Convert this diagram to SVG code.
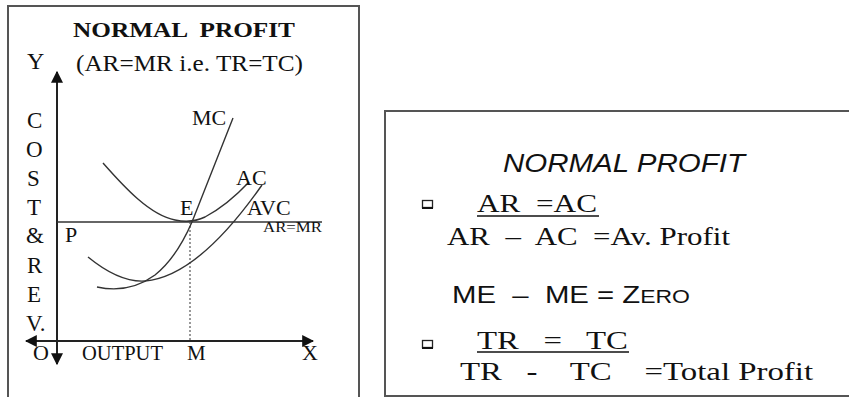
<svg xmlns="http://www.w3.org/2000/svg" width="849" height="397" viewBox="0 0 849 397">
<defs>
<style>
.frame{fill:#fff;stroke:#555;stroke-width:2}
.ser{font-family:"Liberation Serif","Times New Roman",serif;fill:#111;white-space:pre}
.san{font-family:"Liberation Sans",Arial,sans-serif;fill:#111;white-space:pre}
.axis{stroke:#222;stroke-width:2;fill:none}
.curve{stroke:#333;stroke-width:1.4;fill:none}
.bul{fill:#fff;stroke:#222;stroke-width:1.3}
</style>
<marker id="ah" viewBox="0 0 10 10" refX="9" refY="5" markerWidth="6" markerHeight="6" orient="auto-start-reverse" markerUnits="strokeWidth">
<path d="M0,0 L10,5 L0,10 z" fill="#111"/>
</marker>
</defs>
<rect width="849" height="397" fill="#fff"/>

<g id="graph-panel">
<rect class="frame" x="8" y="6" width="351" height="400"/>
<text class="ser" x="73" y="37" font-size="22" font-weight="bold" textLength="222" lengthAdjust="spacingAndGlyphs" xml:space="preserve">NORMAL  PROFIT</text>
<text class="ser" x="76" y="71" font-size="24" textLength="227" lengthAdjust="spacingAndGlyphs">(AR=MR i.e. TR=TC)</text>
<text class="ser" x="27" y="69" font-size="24">Y</text>
<g class="ser" font-size="23">
<text x="27" y="128">C</text>
<text x="26" y="157">O</text>
<text x="27" y="186">S</text>
<text x="27" y="215">T</text>
<text x="26" y="243">&amp;</text>
<text x="27" y="273">R</text>
<text x="27" y="302">E</text>
<text x="26" y="331">V.</text>
</g>
</g>

<g id="connectors">
<line class="axis" x1="57" y1="341" x2="57" y2="72" marker-end="url(#ah)"/>
<line class="axis" x1="57" y1="341" x2="57" y2="364" marker-end="url(#ah)"/>
<line class="axis" x1="26" y1="341" x2="313" y2="341" marker-start="url(#ah)" marker-end="url(#ah)"/>
<line x1="57" y1="222" x2="322" y2="222" stroke="#333" stroke-width="1.6"/>
<line x1="190" y1="222" x2="190" y2="341" stroke="#555" stroke-width="1.2" stroke-dasharray="2,2"/>
<path id="ac" class="curve" d="M103,163 C125,188 150,215 175,220 C185,222 195,222 205,217 C220,209 235,197 249,182"/>
<path id="mc" class="curve" d="M97,287 C120,292 140,286 155,275 C170,263 182,245 192,222 L233,118"/>
<path id="avc" class="curve" d="M88,257 C110,275 130,282 145,281 C180,278 220,245 262,185"/>
</g>

<g id="labels" class="ser">
<text x="192" y="125" font-size="22">MC</text>
<text x="236" y="185" font-size="22">AC</text>
<text x="180" y="215" font-size="22">E</text>
<text x="247" y="215" font-size="22">AVC</text>
<text x="263" y="232" font-size="14" textLength="59" lengthAdjust="spacingAndGlyphs">AR=MR</text>
<text x="65" y="242" font-size="22">P</text>
<text x="33" y="360" font-size="22">O</text>
<text x="82" y="360" font-size="20" textLength="81" lengthAdjust="spacingAndGlyphs">OUTPUT</text>
<text x="187" y="360" font-size="21">M</text>
<text x="302" y="360" font-size="22">X</text>
</g>

<g id="formula-panel">
<rect class="frame" x="385" y="111" width="480" height="285"/>
<text class="san" x="503" y="172" font-size="25" font-style="italic" textLength="242" lengthAdjust="spacingAndGlyphs">NORMAL PROFIT</text>
<rect class="bul" x="422.5" y="200.5" width="10" height="7"/>
<line x1="422" y1="208" x2="433" y2="208" stroke="#111" stroke-width="2"/>
<text class="ser" x="477" y="212" font-size="26" textLength="120" lengthAdjust="spacingAndGlyphs" xml:space="preserve">AR  =AC</text>
<line x1="477" y1="216" x2="599" y2="216" stroke="#111" stroke-width="1.5"/>
<text class="ser" x="447" y="245" font-size="26" textLength="283" lengthAdjust="spacingAndGlyphs" xml:space="preserve">AR  –  AC  =Av. Profit</text>
<text class="san" x="452" y="303" font-size="23" textLength="238" lengthAdjust="spacingAndGlyphs" xml:space="preserve">ME  –  ME = Z<tspan font-size="18">ERO</tspan></text>
<rect class="bul" x="422.5" y="340.5" width="10" height="7"/>
<line x1="422" y1="348" x2="433" y2="348" stroke="#111" stroke-width="2"/>
<text class="ser" x="477" y="349" font-size="26" textLength="151" lengthAdjust="spacingAndGlyphs" xml:space="preserve">TR   =   TC</text>
<line x1="477" y1="352" x2="629" y2="352" stroke="#111" stroke-width="1.5"/>
<text class="ser" x="460" y="380" font-size="26" textLength="353" lengthAdjust="spacingAndGlyphs" xml:space="preserve">TR   -    TC    =Total Profit</text>
</g>
</svg>
